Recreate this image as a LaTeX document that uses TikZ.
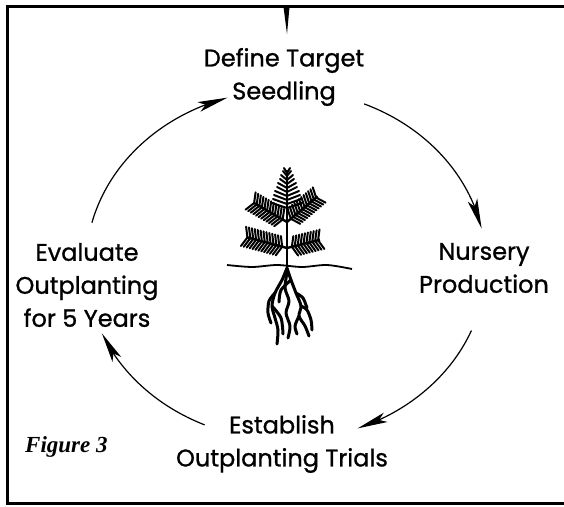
\documentclass[tikz,border=0pt]{standalone}
\usepackage{fontspec}
\usepackage{tikz}
\usetikzlibrary{arrows.meta,bending}
\newfontfamily\stepfont{Poppins}[FakeBold=1]
\newfontfamily\figfont{Liberation Serif}

\begin{document}
\begin{tikzpicture}[x=1pt,y=1pt,
    stage/.style={align=center,inner sep=0pt,font=\stepfont\fontsize{24}{33}\selectfont},
    cycle arrow/.style={line width=1.2pt,-{Stealth[length=30pt,width=10pt,inset=7pt]}},
    needle/.style={line width=2pt,line cap=round}]
        \useasboundingbox (0,0) rectangle (564,506);
        % frame
        \draw[line width=3pt] (564,499) -- (7,499) -- (7,3) -- (564,3);
        \fill (283.5,499) -- (289.5,499) -- (287,472) -- cycle;

        % stages
        \node[stage] (seedling) at (284,429) {Define Target\\Seedling};
        \node[stage] (nursery) at (484,238) {Nursery\\Production};
        \node[stage] (trials) at (282,62) {Establish\\Outplanting Trials};
        \node[stage] (evaluate) at (87,221) {Evaluate\\Outplanting\\for 5 Years};
        \node[font=\figfont\bfseries\itshape\fontsize{23}{28}\selectfont,
            anchor=base west,inner sep=0pt] (fig) at (25,54) {Figure 3};

        % cycle
        \coordinate (hub) at (286,241);
        \draw[cycle arrow] ([shift={(166:200 and 175)}]hub) arc[start angle=166,end angle=107,x radius=200,y radius=175];
        \draw[cycle arrow] ([shift={(67:200 and 175)}]hub) arc[start angle=67,end angle=12,x radius=200,y radius=175];
        \draw[cycle arrow] ([shift={(-22:200 and 175)}]hub) arc[start angle=-22,end angle=-69,x radius=200,y radius=175];
        \draw[cycle arrow] ([shift={(246:200 and 175)}]hub) arc[start angle=246,end angle=203,x radius=200,y radius=175];

        % seedling
        \begin{scope}[shift={(287,238)}]
            \draw[line width=2.8pt] (0,-6) -- (0,98); %stem
            \foreach \y/\w in {60/15,64/14,68/13,72/12,76/10,80/9,84/7,88/6,92/4,95/3}
                \draw[needle] (0,\y) -- (-\w,\y+5) (0,\y) -- (\w,\y+5);
            \foreach \a/\l/\y in {150/38/46,40/40/46,165/42/20,14/34/20}{
                \begin{scope}[shift={(0,\y)},rotate=\a]
                    \draw[line width=2.4pt] (0,0) -- (\l,0);
                    \foreach \x in {5,8,...,\l}
                        \draw[needle] (\x,0) -- (\x+4,10) (\x,0) -- (\x+4,-10);
                \end{scope}
            }
            \draw[line width=1.8pt] plot[smooth] coordinates {(-60,3) (-35,1) (-10,3) (15,1) (40,3) (65,-1)}; %ground
            \begin{scope}[line width=3pt,line join=round,line cap=round]
                \draw plot[smooth] coordinates {(0,0) (-5,-12) (-12,-25) (-15,-38) (-12,-50) (-9,-62) (-10,-76)};
                \draw plot[smooth] coordinates {(0,0) (4,-12) (9,-25) (14,-38) (12,-48) (18,-58) (22,-68)};
                \draw plot[smooth] coordinates {(0,-5) (-2,-20) (2,-33) (-1,-45) (3,-58) (1,-70)};
                \draw plot[smooth] coordinates {(14,-38) (20,-42) (24,-52) (25,-62)};
                \draw plot[smooth] coordinates {(-12,-25) (-18,-33) (-19,-45) (-16,-55)};
                \draw plot[smooth] coordinates {(-15,-38) (-6,-50) (-4,-66)};
                \draw plot[smooth] coordinates {(4,-12) (-6,-22) (-8,-34)};
                \draw plot[smooth] coordinates {(9,-25) (16,-30) (20,-40)};
                \draw plot[smooth] coordinates {(12,-48) (8,-58) (10,-66)};
            \end{scope}
        \end{scope}
\end{tikzpicture}
\end{document}
